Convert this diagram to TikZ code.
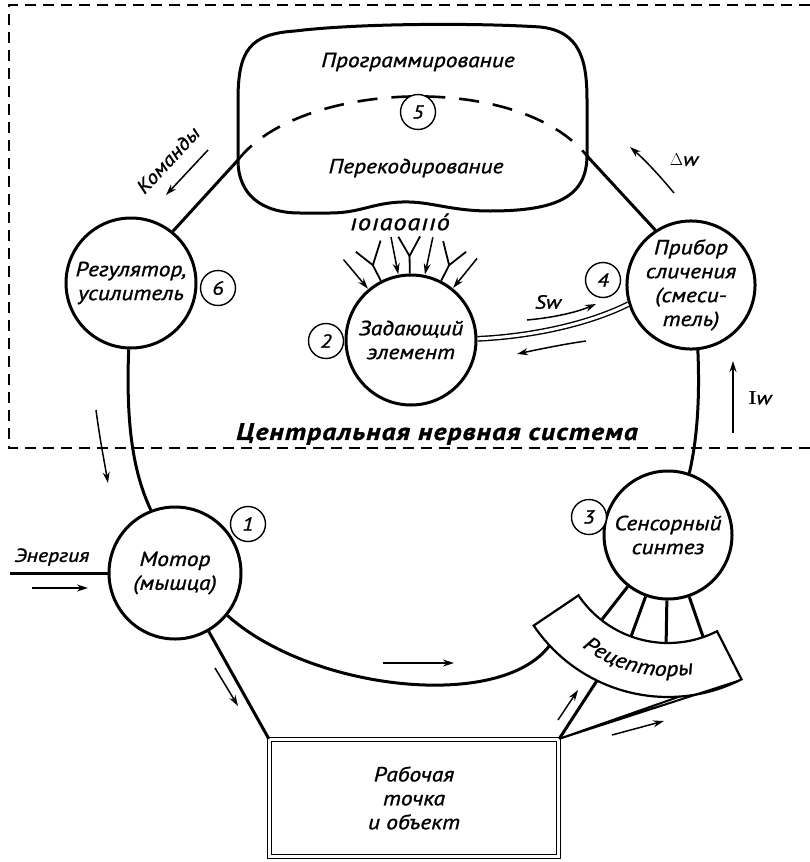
\documentclass[tikz,border=0pt]{standalone}
\usepackage{fontspec}
\usetikzlibrary{arrows.meta,calc,decorations.text}
\newfontfamily\dfont{PT Sans}[FakeStretch=1.15, FakeBold=1.2]
\begin{document}
\begin{tikzpicture}[x=1bp,y=-1bp,
  loop/.style={line width=3bp},
  txt/.style={font=\dfont\itshape\fontsize{20.5}{24}\selectfont},
  unit/.style={circle, draw, line width=3bp, fill=white, inner sep=0pt, align=center, txt},
  num/.style={circle, draw, line width=1.4bp, fill=white, inner sep=0pt, minimum size=35bp,
     font=\dfont\itshape\fontsize{19}{20}\selectfont},
  flow/.style={line width=1.5bp, -{Stealth[length=11bp,width=7bp]}},
  lbl/.style={font=\dfont\itshape\fontsize{19}{20}\selectfont, inner sep=0pt},
  frame/.style={line width=2.2bp, dash pattern=on 11bp off 7bp},
]
\useasboundingbox (0,0) rectangle (810,862);
\fill[white] (0,0) rectangle (810,862);

% boundary of the central nervous system
\draw[frame] (810,5) -- (9,5) -- (9,448) -- (810,448);
\node[font=\dfont\bfseries\itshape\fontsize{24}{26}\selectfont\addfontfeature{LetterSpace=5}, inner sep=0pt]
  (cns) at (437,434) {Центральная нервная система};

% main units of the loop
\node[unit, minimum size=130bp] (reg)  at (131,283) {Регулятор,\\усилитель};
\node[unit, minimum size=132bp] (mot)  at (175,573) {Мотор\\(мышца)};
\node[unit, minimum size=128bp] (sens) at (668,535) {Сенсорный\\синтез};
\node[unit, minimum size=128bp] (comp) at (691,285) {Прибор\\сличения\\(смеси-\\тель)};
\node[unit, minimum size=130bp] (zad)  at (411,340) {Задающий\\элемент};
\node[draw, double, double distance=3bp, line width=1.4bp, minimum width=289bp,
      minimum height=117bp, align=center, txt] (work) at (414,798) {Рабочая\\точка\\и объект};

% programming / recoding block
\draw[loop, fill=white] (238,160) -- (238,100) .. controls (238,50) and (250,34) .. (295,31)
  .. controls (360,23) and (480,23) .. (540,27) .. controls (580,31) and (587,60) .. (587,100)
  -- (587,155) .. controls (587,195) and (560,211) .. (490,211)
  .. controls (450,211) and (430,201) .. (402,202) .. controls (372,203) and (360,213) .. (330,213)
  -- (300,213) .. controls (262,213) and (238,195) .. (238,160) -- cycle;
\coordinate (bl) at (238,160);
\coordinate (br) at (587,156);
\draw[line width=2.6bp, dash pattern=on 20bp off 14bp] (bl) .. controls (300,80) and (520,72) .. (br);
\node[txt, inner sep=0pt] (prog) at (418,62) {Программирование};
\node[txt, inner sep=0pt] (reco) at (416,168) {Перекодирование};
\node[lbl, font=\dfont\itshape\fontsize{23}{24}\selectfont\addfontfeature{LetterSpace=4}] (code) at (400,222) {ıoıaoaııó};

% receptor band below the sensory synthesis
\begin{scope}[shift={(sens.center)}]
  \draw[line width=2.2bp, fill=white] plot[domain=-146:-63, samples=40] (\x:108bp)
    -- plot[domain=-63:-146, samples=40] (\x:162bp) -- cycle;
  \path[decorate, decoration={text along path, text align=center,
      text={|\dfont\itshape\fontsize{21}{22}\selectfont|Рецепторы}}]
    plot[domain=-142:-65, samples=40] (\x:141bp);
\end{scope}
\foreach \a in {-128,-110,-91,-71}
  \draw[loop] (sens.\a) -- ($(sens.center)+(\a:108bp)$);
\coordinate (ra)  at ($(sens.center)+(-137:162bp)$);
\coordinate (rb1) at ($(sens.center)+(-116:162bp)$);
\coordinate (rb2) at ($(sens.center)+(-86:162bp)$);
\coordinate (rb3) at ($(sens.center)+(-64:162bp)$);
\coordinate (en)  at (10,573);

% connections of the loop
\draw[loop] (reg.-92) .. controls (126,420) and (132,470) .. (mot.111);
\draw[loop] (reg.51) -- (bl);
\draw[loop] (comp.123) -- (br);
\draw[loop] (comp.-84) .. controls (700,400) and (697,440) .. (sens.71);
\draw[loop] (mot.-39) .. controls (310,690) and (500,712) .. (ra);
\draw[loop] (mot.-60) -- (work.north west);
\draw[loop] (en) -- (mot.west);
\draw[loop] (work.north east) -- (rb1);
\draw[line width=2bp] (rb2) -- (work.north east) -- (rb3);
\draw[line width=1.4bp, double, double distance=3bp] (zad.1) .. controls (540,336) and (595,321) .. (comp.197);

% afferent arrows and branchings on the setting element
\foreach \a in {130,101,78,51}
  \draw[flow] ($(zad.center)+(\a:105bp)$) -- ($(zad.center)+(\a:67bp)$);
\foreach \m/\l/\r in {117/122/107, 91/97/85, 63/72/58} {
  \draw[line width=1.8bp] ($(zad.center)+(\l:104bp)$) -- ($(zad.center)+(\m:84bp)$) -- ($(zad.center)+(\r:104bp)$);
  \draw[line width=1.8bp] ($(zad.center)+(\m:84bp)$) -- (zad.\m);
}

% numbered markers
\node[num] (n1) at (248,524) {1};
\node[num] (n2) at (326,341) {2};
\node[num] (n3) at (589,517) {3};
\node[num] (n4) at (603,280) {4};
\node[num] (n5) at (418,112) {5};
\node[num] (n6) at (218,288) {6};

% flow arrows and their labels
\draw[flow] (208,150) -- (166,195);
\node[lbl, rotate=47] (cmd) at (168,160) {Команды};
\draw[flow] (674,193) .. controls (660,176) and (645,160) .. (630,147);
\node[lbl] (dw) at (684,160) {{\normalfont\upshape$\Delta$}w};
\draw[flow] (527,320) .. controls (550,318) and (575,313) .. (596,304);
\node[lbl] (sw) at (548,302) {Sw};
\draw[flow] (586,341) .. controls (565,344) and (540,349) .. (517,354);
\draw[flow] (733,433) -- (733,361);
\node[lbl] (iw) at (760,398) {{\normalfont\upshape\bfseries I}w};
\draw[flow] (96,410) .. controls (100,440) and (104,460) .. (108,483);
\node[lbl] (enl) at (52,557) {Энергия};
\draw[flow] (32,588) -- (88,588);
\draw[flow] (215,668) -- (238,706);
\draw[flow] (383,663) -- (454,663);
\draw[flow] (558,720) -- (578,690);
\draw[flow] (612,735) -- (664,721);
\end{tikzpicture}
\end{document}
